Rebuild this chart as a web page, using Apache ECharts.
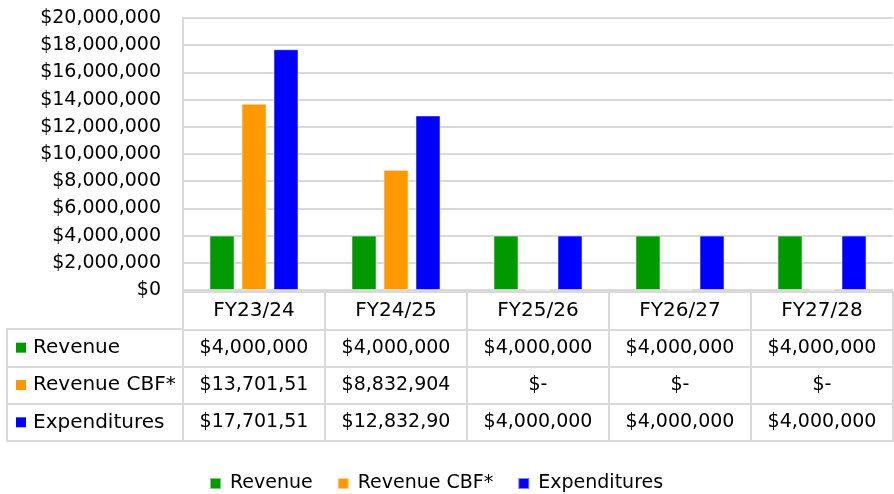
<!DOCTYPE html>
<html>
<head>
<meta charset="utf-8">
<script src="https://cdn.jsdelivr.net/npm/echarts@6/dist/echarts.min.js"></script>
<style>
  html, body { margin: 0; padding: 0; background: #fff; }
  #chart { width: 894px; height: 494px; }
</style>
</head>
<body>
<div id="chart"></div>
<script>
const years = ['FY23/24', 'FY24/25', 'FY25/26', 'FY26/27', 'FY27/28'];
const seriesNames = ['Revenue', 'Revenue CBF*', 'Expenditures'];
const revenue = [4000000, 4000000, 4000000, 4000000, 4000000];
const revenueCbf = [13701510, 8832904, 0, 0, 0];
const expenditures = [17701510, 12832904, 4000000, 4000000, 4000000];
// table cell texts as printed (some are clipped in the source)
const revenueText = ['$4,000,000', '$4,000,000', '$4,000,000', '$4,000,000', '$4,000,000'];
const revenueCbfText = ['$13,701,51', '$8,832,904', '$-', '$-', '$-'];
const expendituresText = ['$17,701,51', '$12,832,90', '$4,000,000', '$4,000,000', '$4,000,000'];
const colors = ['#009900', '#ff9900', '#0000ff'];

const FONT = 'DejaVu Sans';
const FS = 20;      // header row + row names
const VAL_FS = 19;  // table values, legend, y axis
const gridColor = '#d9d9d9';

// table cells: [column, row, text]; row 0 is the FY header
const tableRows = [years, revenueText, revenueCbfText, expendituresText];
const cells = [];
tableRows.forEach((row, r) => {
  row.forEach((txt, c) => {
    cells.push(r === 0 ? { value: [c, r, txt], label: { fontSize: FS } } : [c, r, txt]);
  });
});

const chart = echarts.init(document.getElementById('chart'));

const money = v => '$' + v.toLocaleString('en-US');

const barStyle = { borderColor: 'rgba(255,255,255,0.5)', borderWidth: 1 };

const option = {
  animation: false,
  textStyle: { fontFamily: FONT },
  color: colors,
  legend: {
    bottom: -4,
    left: 204,
    icon: 'rect',
    itemWidth: 11,
    itemHeight: 11,
    itemGap: 24,
    data: seriesNames,
    textStyle: { fontFamily: FONT, fontSize: VAL_FS, color: '#000', padding: [0, 0, 0, 4] }
  },
  grid: [
    // bar plot
    { left: 183, right: 1, top: 18, height: 272 },
    // data table body
    { left: 183, right: 1, top: 292, height: 149, show: true, borderColor: gridColor, borderWidth: 2 },
    // row header column
    { left: 7, width: 176, top: 329, height: 112, show: true, borderColor: gridColor, borderWidth: 2 }
  ],
  xAxis: [
    {
      gridIndex: 0, type: 'category', data: years,
      axisLine: { show: false }, axisTick: { show: false }, axisLabel: { show: false }
    },
    {
      gridIndex: 1, type: 'category', data: years,
      axisLine: { show: false }, axisTick: { show: false }, axisLabel: { show: false },
      splitLine: { show: true, lineStyle: { color: gridColor, width: 2 } }
    },
    { gridIndex: 2, type: 'value', show: false }
  ],
  yAxis: [
    {
      gridIndex: 0, type: 'value', min: 0, max: 20000000, interval: 2000000,
      axisLine: { show: true, lineStyle: { color: gridColor, width: 2 } },
      axisTick: { show: false },
      axisLabel: { formatter: money, color: '#000', fontSize: VAL_FS, fontFamily: FONT, margin: 22 },
      splitLine: { lineStyle: { color: gridColor, width: 2 } }
    },
    {
      gridIndex: 1, type: 'category', inverse: true, data: [0, 1, 2, 3],
      axisLine: { show: false }, axisTick: { show: false }, axisLabel: { show: false },
      splitLine: { show: true, lineStyle: { color: gridColor, width: 2 } }
    },
    {
      gridIndex: 2, type: 'category', inverse: true, data: seriesNames,
      axisLine: { show: false }, axisTick: { show: false },
      splitLine: { show: true, lineStyle: { color: gridColor, width: 2 } },
      axisLabel: {
        inside: true, margin: 9, align: 'left',
        formatter: (v, i) => '{s' + i + '|}{t|' + v + '}',
        rich: {
          s0: { width: 10, height: 10, backgroundColor: colors[0] },
          s1: { width: 10, height: 10, backgroundColor: colors[1] },
          s2: { width: 10, height: 10, backgroundColor: colors[2] },
          t: { fontSize: FS, fontFamily: FONT, color: '#000', padding: [0, 0, 0, 7] }
        }
      }
    }
  ],
  series: [
    { name: seriesNames[0], type: 'bar', data: revenue, barWidth: 25, barGap: '28%', itemStyle: barStyle },
    { name: seriesNames[1], type: 'bar', data: revenueCbf, barWidth: 25, barGap: '28%', itemStyle: barStyle },
    { name: seriesNames[2], type: 'bar', data: expenditures, barWidth: 25, barGap: '28%', itemStyle: barStyle },
    {
      type: 'scatter', xAxisIndex: 1, yAxisIndex: 1,
      data: cells, symbolSize: 0, silent: true,
      itemStyle: { opacity: 1 },
      label: {
        show: true, position: 'inside',
        formatter: p => p.value[2],
        fontSize: VAL_FS, fontFamily: FONT, color: '#000'
      }
    }
  ]
};

chart.setOption(option);
</script>
</body>
</html>
